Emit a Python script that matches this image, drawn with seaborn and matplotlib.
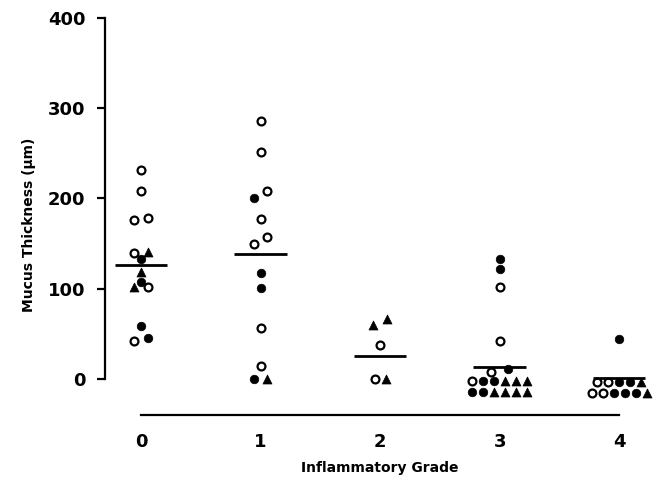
import numpy as np
import pandas as pd
import seaborn as sns
import matplotlib.pyplot as plt

# values, one entry per animal
grade = ([0] * 14 + [1] * 13 + [2] * 5 + [3] * 18 + [4] * 12)
thickness = [
    # grade 0
    232, 208, 176, 178, 140, 141, 133, 118, 107, 102, 102, 59, 42, 45,
    # grade 1
    286, 252, 208, 201, 177, 157, 150, 117, 101, 56, 14, 0, 0,
    # grade 2
    66, 60, 38, 0, 0,
    # grade 3
    133, 122, 102, 42, 11, 8,
    -2, -2, -2, -2, -2, -2,
    -14, -14, -14, -14, -14, -14,
    # grade 4
    44,
    -3, -3, -3, -3, -3,
    -15, -15, -15, -15, -15, -15,
]
kind = [
    # grade 0
    "open", "open", "open", "open", "open", "tri", "filled", "tri", "filled",
    "tri", "open", "filled", "open", "filled",
    # grade 1
    "open", "open", "open", "filled", "open", "open", "open", "filled",
    "filled", "open", "open", "filled", "tri",
    # grade 2
    "tri", "tri", "open", "open", "tri",
    # grade 3
    "filled", "filled", "open", "open", "filled", "open",
    "open", "filled", "filled", "tri", "tri", "tri",
    "filled", "filled", "tri", "tri", "tri", "tri",
    # grade 4
    "filled",
    "open", "open", "filled", "filled", "tri",
    "open", "open", "filled", "filled", "filled", "tri",
]
# horizontal slot of each symbol inside its column (dot-plot stacking)
slot = [
    0, 0, -0.6, 0.6, -0.6, 0.6, 0, 0, 0, -0.6, 0.6, 0, -0.6, 0.6,
    0, 0, 0.6, -0.6, 0, 0.6, -0.6, 0, 0, 0, 0, -0.6, 0.6,
    0.6, -0.6, 0, -0.5, 0.5,
    0, 0, 0, 0, 0.8, -0.8,
    -2.5, -1.5, -0.5, 0.5, 1.5, 2.5,
    -2.5, -1.5, -0.5, 0.5, 1.5, 2.5,
    0,
    -2, -1, 0, 1, 2,
    -2.5, -1.5, -0.5, 0.5, 1.5, 2.5,
]
group_line = [126, 138, 25, 13, 1]
grades = [0, 1, 2, 3, 4]

df = pd.DataFrame({"grade": grade, "thickness": thickness,
                   "kind": kind, "slot": slot})
df["x"] = df["grade"] + df["slot"] * 0.092

sns.set_style("ticks", {"axes.edgecolor": "black", "text.color": "black",
                        "axes.labelcolor": "black", "xtick.color": "black",
                        "ytick.color": "black"})
plt.rcParams["font.family"] = ["DejaVu Sans"]
plt.rcParams["font.weight"] = "bold"

fig = plt.figure(figsize=(6.59, 4.88), dpi=100)
ax = fig.add_axes([105 / 659, 0.1402, 550 / 659, 0.8229])

marker_style = {
    "open": dict(marker="o", facecolor="white", edgecolor="black", linewidth=1.6, s=32),
    "filled": dict(marker="o", color="black", edgecolor="black", linewidth=0.5, s=38),
    "tri": dict(marker="^", color="black", edgecolor="black", linewidth=0.5, s=42),
}
for k, style in marker_style.items():
    sns.scatterplot(data=df[df["kind"] == k], x="x", y="thickness", ax=ax,
                    legend=False, zorder=3, clip_on=False, **style)

ax.hlines(group_line, np.array(grades) - 0.22, np.array(grades) + 0.22,
          color="black", linewidth=2, zorder=4)

ax.set_xlim(-0.301, 4.3)
ax.set_ylim(-45, 400)

sns.despine(ax=ax)
ax.spines["left"].set_bounds(0, 400)
ax.spines["left"].set_linewidth(1.6)
ax.spines["bottom"].set_position(("data", -40))
ax.spines["bottom"].set_bounds(0, 4)
ax.spines["bottom"].set_linewidth(1.6)

ax.set_yticks([0, 100, 200, 300, 400])
ax.set_xticks(grades)
ax.tick_params(axis="y", length=6, width=1.6, pad=8, labelsize=13)
ax.tick_params(axis="x", length=0, pad=13, labelsize=13)
for lbl in ax.get_xticklabels() + ax.get_yticklabels():
    lbl.set_fontweight("bold")

ax.set_xlabel("Inflammatory Grade", fontsize=10, fontweight="bold")
ax.set_ylabel("Mucus Thickness (\u00b5m)", fontsize=10, fontweight="bold")
ax.xaxis.set_label_coords((380 - 105) / 550, -0.103)
ax.yaxis.set_label_coords(-0.125, 0.485)

fig.savefig("out.png", dpi=100)
